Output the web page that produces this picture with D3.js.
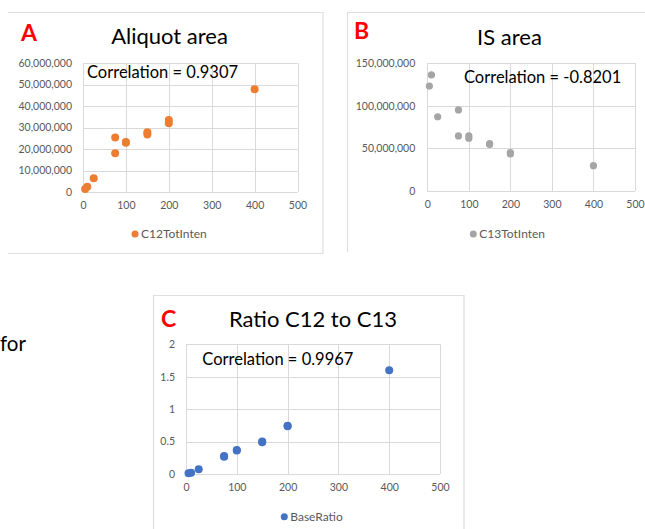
<!DOCTYPE html>
<html>
<head>
<meta charset="utf-8">
<script src="https://cdn.jsdelivr.net/npm/d3@7"></script>
<style>
  html, body { margin: 0; padding: 0; background: #fff; }
  svg { display: block; font-family: Lato, "Open Sans", sans-serif; }
</style>
</head>
<body>
<svg id="chart" width="645" height="529"></svg>
<script>
// Spike concentrations of the calibration samples
const concentrations = [5, 10, 25, 75, 75, 100, 100, 150, 150, 200, 200, 400];
// Integrated peak intensity of the C12 analyte (aliquot area)
const c12TotInten = [1.4e6, 2.5e6, 6.4e6, 25.4e6, 18.0e6, 23.3e6, 22.9e6, 27.8e6, 26.8e6, 33.5e6, 32.0e6, 47.8e6];
// Integrated peak intensity of the C13 internal standard (IS area)
const c13TotInten = [123e6, 136e6, 87e6, 95e6, 64.5e6, 64.5e6, 61.8e6, 55.5e6, 54.5e6, 45.0e6, 43.5e6, 29.7e6];
// C12 / C13 ratio
const baseRatio = [0.011, 0.018, 0.074, 0.267, 0.279, 0.361, 0.370, 0.500, 0.490, 0.744, 0.736, 1.600];

const xTicks = [0, 100, 200, 300, 400, 500];
const yTicksA = [0, 10e6, 20e6, 30e6, 40e6, 50e6, 60e6];
const yTicksB = [0, 50e6, 100e6, 150e6];
const yTicksC = [0, 0.5, 1, 1.5, 2];

const panelLetters = ["A", "B", "C"];
const panelTitles = ["Aliquot area", "IS area", "Ratio C12 to C13"];
const correlations = ["Correlation = 0.9307", "Correlation = -0.8201", "Correlation = 0.9967"];
const seriesNames = ["C12TotInten", "C13TotInten", "BaseRatio"];

const svg = d3.select("#chart");
const frameColor = "#dedede";
const gridColor = "#d9d9d9";
const tickColor = "#595959";

// Outer frames of the three chart boxes
const frame = svg.append("g").attr("fill", "none").attr("stroke", frameColor).attr("stroke-width", 1.2);
frame.append("path").attr("d", "M8,12.5H323V253.5H8");
frame.append("path").attr("d", "M645,12.5H347.5V252");
frame.append("path").attr("d", "M153.5,529V295.5H464V529");

// Stray word from the surrounding document text
svg.append("text").attr("x", 0).attr("y", 350.5)
  .attr("font-size", 20.5).attr("fill", "#000").text("for");

function drawPanel(cfg) {
  const g = svg.append("g");
  const x = d3.scaleLinear().domain([0, 500]).range([cfg.left, cfg.right]);
  const y = d3.scaleLinear().domain(cfg.yDomain).range([cfg.bottom, cfg.top]);

  // Gridlines
  g.append("g").selectAll("line.h").data(cfg.yTicks).join("line")
    .attr("x1", cfg.left).attr("x2", cfg.right)
    .attr("y1", d => Math.round(y(d)) + 0.5).attr("y2", d => Math.round(y(d)) + 0.5)
    .attr("stroke", gridColor).attr("stroke-width", 1);
  g.append("g").selectAll("line.v").data(xTicks).join("line")
    .attr("y1", cfg.top).attr("y2", cfg.bottom)
    .attr("x1", d => Math.round(x(d)) + 0.5).attr("x2", d => Math.round(x(d)) + 0.5)
    .attr("stroke", gridColor).attr("stroke-width", 1);

  // Axes (labels only; lines come from the gridlines)
  const yAxis = g.append("g").attr("transform", `translate(${cfg.left},0)`)
    .call(d3.axisLeft(y).tickValues(cfg.yTicks).tickFormat(cfg.yFormat).tickSize(0).tickPadding(cfg.yPad));
  const xAxis = g.append("g").attr("transform", `translate(0,${cfg.bottom})`)
    .call(d3.axisBottom(x).tickValues(xTicks).tickFormat(d3.format("d")).tickSize(0).tickPadding(cfg.xPad));
  [yAxis, xAxis].forEach(a => {
    a.select(".domain").remove();
    a.selectAll("text").attr("fill", tickColor).attr("font-size", 10.5)
      .attr("font-family", "Lato, 'Open Sans', sans-serif");
  });

  // Points
  g.append("g").selectAll("circle").data(concentrations).join("circle")
    .attr("cx", (d) => x(d))
    .attr("cy", (d, i) => y(cfg.values[i]))
    .attr("r", cfg.r)
    .attr("fill", cfg.color);

  // Title, panel letter and correlation label
  g.append("text").attr("x", cfg.titleX).attr("y", cfg.titleY)
    .attr("text-anchor", "middle").attr("font-size", 22).attr("fill", "#000").text(cfg.title);
  g.append("text").attr("x", cfg.letterX).attr("y", cfg.letterY)
    .attr("font-size", 23).attr("font-weight", "bold").attr("fill", "#ff0000").text(cfg.letter);
  g.append("text").attr("x", cfg.corrX).attr("y", cfg.corrY)
    .attr("font-size", 16.5).attr("fill", "#000").text(cfg.corr);

  // Legend
  const lg = g.append("g").attr("transform", `translate(${cfg.legendX},${cfg.legendY})`);
  lg.append("circle").attr("cx", 0).attr("cy", 0).attr("r", 3.5).attr("fill", cfg.color);
  lg.append("text").attr("x", 6).attr("y", 0).attr("dy", "0.35em")
    .attr("font-size", 12).attr("fill", tickColor).text(cfg.series);
}

drawPanel({
  left: 83, right: 297.5, top: 63, bottom: 192,
  yDomain: [0, 60e6], yTicks: yTicksA, yFormat: d3.format(","), yPad: 11, xPad: 10,
  values: c12TotInten, color: "#ED7D31", r: 4,
  title: panelTitles[0], titleX: 169.5, titleY: 44,
  letter: panelLetters[0], letterX: 21, letterY: 41,
  corr: correlations[0], corrX: 87, corrY: 77.5,
  series: seriesNames[0], legendX: 135, legendY: 234
});

drawPanel({
  left: 427.3, right: 635, top: 63, bottom: 191,
  yDomain: [0, 150e6], yTicks: yTicksB, yFormat: d3.format(","), yPad: 12, xPad: 10,
  values: c13TotInten, color: "#A5A5A5", r: 3.6,
  title: panelTitles[1], titleX: 509.5, titleY: 45,
  letter: panelLetters[1], letterX: 354, letterY: 38.7,
  corr: correlations[1], corrX: 464, corrY: 82.7,
  series: seriesNames[1], legendX: 473.3, legendY: 234
});

drawPanel({
  left: 186, right: 440, top: 344.3, bottom: 474,
  yDomain: [0, 2], yTicks: yTicksC, yFormat: d3.format("~g"), yPad: 11, xPad: 10,
  values: baseRatio, color: "#4472C4", r: 4,
  title: panelTitles[2], titleX: 313, titleY: 326.7,
  letter: panelLetters[2], letterX: 161, letterY: 326.7,
  corr: correlations[2], corrX: 202.3, corrY: 365,
  series: seriesNames[2], legendX: 284.3, legendY: 516.7
});
</script>
</body>
</html>
